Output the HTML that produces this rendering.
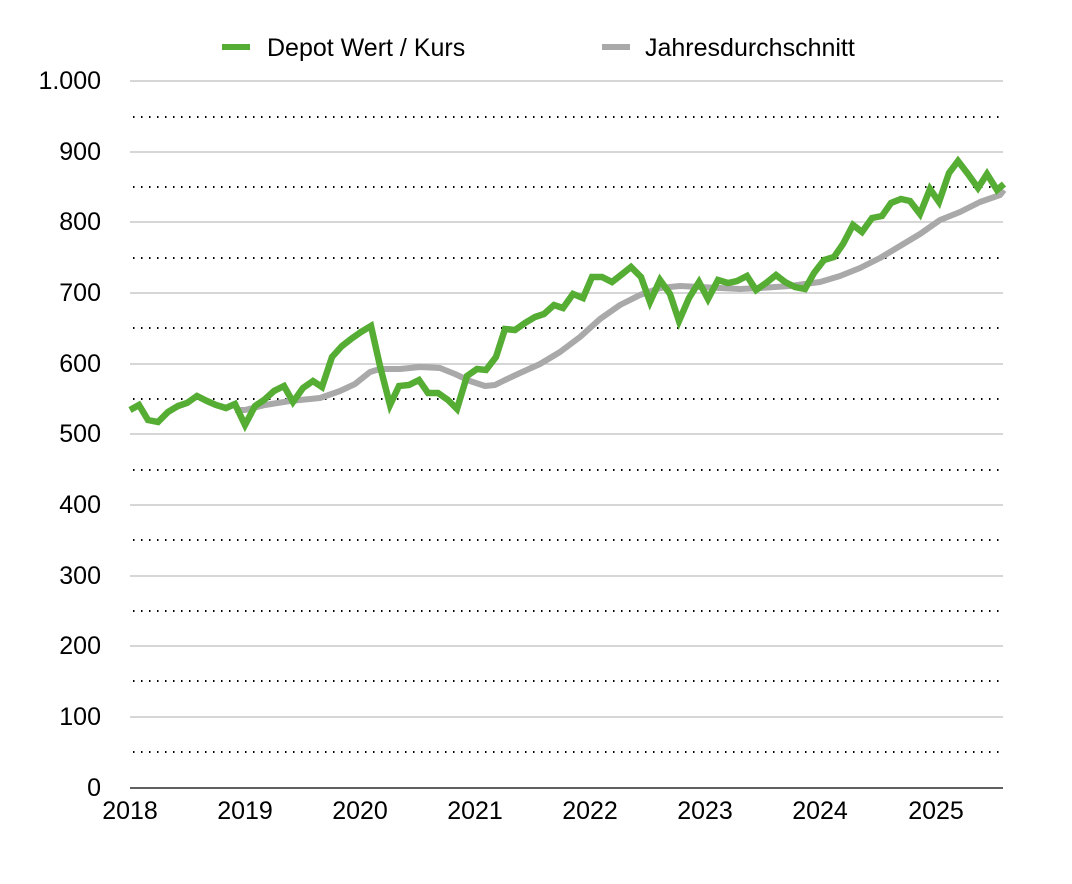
<!DOCTYPE html>
<html><head><meta charset="utf-8"><style>body{margin:0;background:#fff}svg{display:block}text{font-family:"Liberation Sans",Arial,sans-serif;font-size:25px;fill:#000}</style></head><body>
<svg width="1072" height="884" xmlns="http://www.w3.org/2000/svg">
<g stroke="#bdbdbd" stroke-width="1.3">
<line x1="130" x2="1003" y1="81" y2="81"/><line x1="130" x2="1003" y1="152" y2="152"/><line x1="130" x2="1003" y1="222" y2="222"/><line x1="130" x2="1003" y1="293" y2="293"/><line x1="130" x2="1003" y1="364" y2="364"/><line x1="130" x2="1003" y1="434" y2="434"/><line x1="130" x2="1003" y1="505" y2="505"/><line x1="130" x2="1003" y1="576" y2="576"/><line x1="130" x2="1003" y1="646" y2="646"/><line x1="130" x2="1003" y1="717" y2="717"/>
</g>
<g stroke="#000" stroke-width="2" stroke-dasharray="1.5 6.5">
<line x1="133" x2="1003" y1="117" y2="117"/><line x1="133" x2="1003" y1="187" y2="187"/><line x1="133" x2="1003" y1="258" y2="258"/><line x1="133" x2="1003" y1="328" y2="328"/><line x1="133" x2="1003" y1="399" y2="399"/><line x1="133" x2="1003" y1="470" y2="470"/><line x1="133" x2="1003" y1="540" y2="540"/><line x1="133" x2="1003" y1="611" y2="611"/><line x1="133" x2="1003" y1="681" y2="681"/><line x1="133" x2="1003" y1="752" y2="752"/>
</g>
<line x1="130" x2="1003" y1="788" y2="788" stroke="#000" stroke-width="1.3"/>
<g text-anchor="end">
<text x="101" y="89">1.000</text><text x="101" y="160">900</text><text x="101" y="230">800</text><text x="101" y="301">700</text><text x="101" y="372">600</text><text x="101" y="442">500</text><text x="101" y="513">400</text><text x="101" y="584">300</text><text x="101" y="654">200</text><text x="101" y="725">100</text><text x="101" y="796">0</text>
</g>
<g text-anchor="middle">
<text x="130" y="819">2018</text><text x="245" y="819">2019</text><text x="360" y="819">2020</text><text x="475" y="819">2021</text><text x="590" y="819">2022</text><text x="705" y="819">2023</text><text x="820" y="819">2024</text><text x="936" y="819">2025</text>
</g>
<polyline fill="none" stroke="#a9a9a9" stroke-width="6" stroke-linejoin="round" points="235,410 245,410 265,405 290,401 320,398 340,391 355,384 370,372 380,369 400,369 420,367 440,368 455,374 470,381 485,386 495,385 505,380 520,373 540,364 560,352 580,337 600,319 620,305 640,295 660,288 680,286 700,287 720,288 740,289 760,288 790,286 820,282 840,276 860,268 880,258 900,246 920,234 940,220 960,212 980,202 1000,195 1004,190"/>
<polyline fill="none" stroke="#55ad34" stroke-width="6.5" stroke-linejoin="miter" points="130,410 139,405 148,420 158,422 168,412 178,406 187,403 197,396 207,401 216,405 226,408 235,404 245,425 255,406 264,400 274,391 284,386 293,402 303,388 313,381 322,387 332,357 342,346 351,339 361,332 371,326 380,366 390,405 399,386 409,385 419,380 428,393 438,393 448,400 457,409 467,376 477,369 486,370 496,357 505,329 515,330 525,323 535,317 544,314 554,305 563,308 573,294 583,298 592,277 602,277 612,282 621,275 631,267 641,277 650,302 660,280 670,294 679,321 689,298 699,282 708,299 718,280 728,283 737,281 747,276 756,290 766,283 776,275 785,282 795,287 805,289 814,273 824,260 834,257 843,244 853,225 862,232 872,218 882,216 891,203 901,199 910,201 920,214 930,189 939,202 949,173 958,161 968,174 978,188 987,174 997,190 1004,184"/>
<line x1="222" x2="250" y1="47" y2="47" stroke="#55ad34" stroke-width="6"/>
<text x="267" y="56">Depot Wert / Kurs</text>
<line x1="602" x2="630" y1="47" y2="47" stroke="#a9a9a9" stroke-width="6"/>
<text x="645" y="56">Jahresdurchschnitt</text>
</svg>
</body></html>
